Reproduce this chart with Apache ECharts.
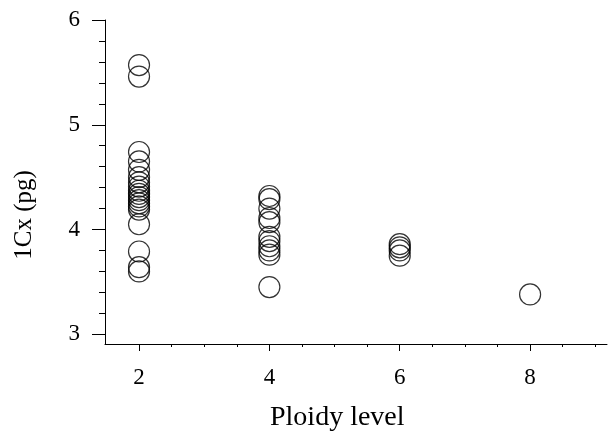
<!DOCTYPE html>
<html>
<head>
<meta charset="utf-8">
<script src="https://cdn.jsdelivr.net/npm/echarts@6/dist/echarts.min.js"></script>
<style>html,body{margin:0;padding:0;background:#fff}#c{width:608px;height:433px}</style>
</head>
<body>
<div id="c"></div>
<script>
var ploidyLevels = [2, 4, 6, 8];
var cx2 = [5.57, 5.46, 4.74, 4.65, 4.57, 4.50, 4.45, 4.41, 4.37, 4.34, 4.31, 4.28, 4.25, 4.22, 4.19, 4.05, 3.79, 3.64, 3.60];
var cx4 = [4.32, 4.29, 4.20, 4.11, 4.07, 3.93, 3.89, 3.84, 3.80, 3.76, 3.45];
var cx6 = [3.86, 3.83, 3.80, 3.75];
var cx8 = [3.38];
var xMajorTicks = [2, 4, 6, 8];
var xMinorTicks = [2.5, 3, 3.5, 4.5, 5, 5.5, 6.5, 7, 7.5, 8.5, 9];
var yMajorTicks = [3, 4, 5, 6];
var yMinorTicks = [3.2, 3.4, 3.6, 3.8, 4.2, 4.4, 4.6, 4.8, 5.2, 5.4, 5.6, 5.8];
var xTitle = 'Ploidy level';
var yTitle = '1Cx (pg)';

var groups = [cx2, cx4, cx6, cx8];
var points = [];
groups.forEach(function (vals, i) {
  vals.forEach(function (v) { points.push([ploidyLevels[i], v]); });
});

var labelFont = {color: '#000', fontFamily: 'Liberation Serif', fontSize: 23};
var chart = echarts.init(document.getElementById('c'), null, {renderer: 'canvas'});
var xMin = 1.478, xMax = 9.18, yMin = 2.907, yMax = 6;
chart.setOption({
  animation: false,
  backgroundColor: '#fff',
  grid: {left: 105, top: 20, right: 1, bottom: 89},
  xAxis: [
    {type: 'value', min: xMin, max: xMax, position: 'bottom',
     axisLine: {show: true, lineStyle: {color: '#000', width: 1}},
     axisTick: {show: true, customValues: xMajorTicks, length: 7, lineStyle: {color: '#000', width: 1}},
     axisLabel: Object.assign({show: true, customValues: xMajorTicks, margin: 22}, labelFont),
     splitLine: {show: false}},
    {type: 'value', min: xMin, max: xMax, position: 'bottom',
     axisLine: {show: false},
     axisTick: {show: true, customValues: xMinorTicks, length: 3, lineStyle: {color: '#000', width: 1}},
     axisLabel: {show: false},
     splitLine: {show: false}}
  ],
  yAxis: [
    {type: 'value', min: yMin, max: yMax, position: 'left',
     axisLine: {show: true, lineStyle: {color: '#000', width: 1}},
     axisTick: {show: true, customValues: yMajorTicks, length: 13, lineStyle: {color: '#000', width: 1}},
     axisLabel: Object.assign({show: true, customValues: yMajorTicks, margin: 25}, labelFont),
     splitLine: {show: false}},
    {type: 'value', min: yMin, max: yMax, position: 'left',
     axisLine: {show: false},
     axisTick: {show: true, customValues: yMinorTicks, length: 6, lineStyle: {color: '#000', width: 1}},
     axisLabel: {show: false},
     splitLine: {show: false}}
  ],
  graphic: [
    {type: 'text', left: 270, top: 404, style: {text: xTitle, fill: '#000', font: '28px "Liberation Serif"'}},
    {type: 'text', x: 24, y: 215, rotation: Math.PI / 2, style: {text: yTitle, fill: '#000', font: '25px "Liberation Serif"', align: 'center', verticalAlign: 'middle'}}
  ],
  series: [{
    type: 'scatter', xAxisIndex: 0, yAxisIndex: 0,
    data: points,
    symbol: 'circle', symbolSize: 21,
    itemStyle: {color: 'rgba(0,0,0,0)', borderColor: '#000', borderWidth: 1.2},
    emphasis: {disabled: true}
  }]
});
</script>
</body>
</html>
